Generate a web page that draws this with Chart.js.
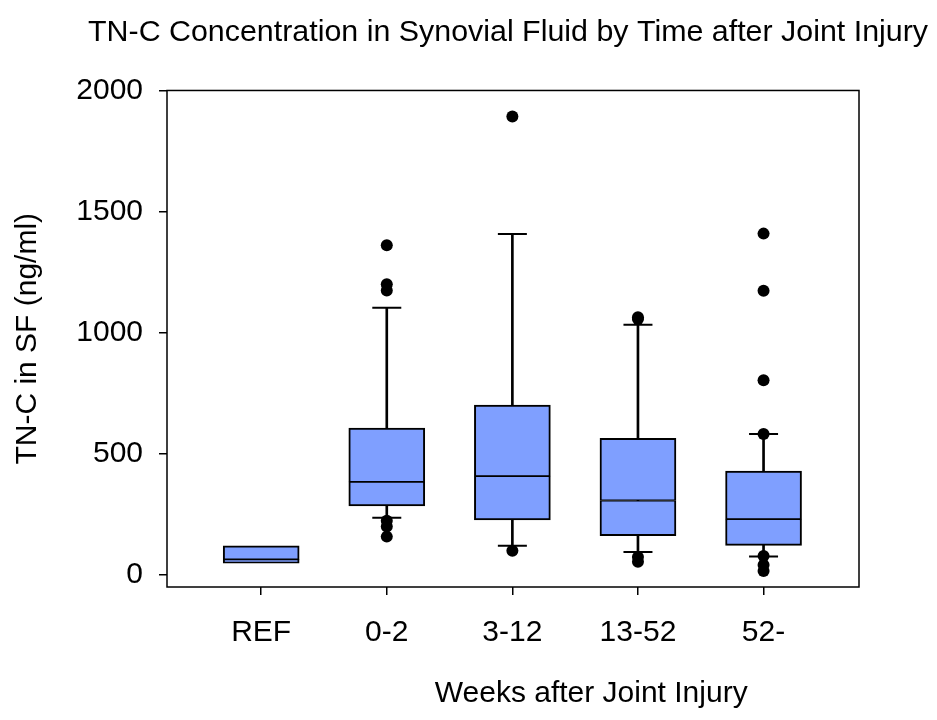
<!DOCTYPE html>
<html><head><meta charset="utf-8">
<script src="https://cdn.jsdelivr.net/npm/chart.js@4"></script>
<style>html,body{margin:0;padding:0;background:#fff}#wrap{width:937px;height:720px}</style>
</head><body><div id="wrap"><canvas id="c" width="937" height="720"></canvas></div>
<script>
const categories = ['REF', '0-2', '3-12', '13-52', '52-'];
const q1 = [48, 285, 227, 162, 122];
const medians = [64, 384, 408, 307, 230];
const q3 = [120, 606, 701, 564, 429];
const whiskerLow = [null, 236, 120, 94, 76];
const whiskerHigh = [null, 1103, 1407, 1033, 582];
const outliers = [
  [],
  [1361, 1200, 1174, 224, 200, 158],
  [1893, 100],
  [1064, 1056, 74, 54],
  [1409, 1173, 804, 582, 78, 41, 16]
];
const yTicks = [0, 500, 1000, 1500, 2000];
const chartTitle = 'TN-C Concentration in Synovial Fluid by Time after Joint Injury';
const xTitle = 'Weeks after Joint Injury';
const yTitle = 'TN-C in SF (ng/ml)';

const FONT = "'Liberation Sans', Arial, sans-serif";
Chart.defaults.font.family = FONT;
Chart.defaults.color = '#000';

const boxFill = '#7F9FFF';

const whiskerData = categories.map((c, i) => whiskerLow[i] == null ? null : {x: i + 1, y: [whiskerLow[i], whiskerHigh[i]]}).filter(d => d);
const lowerBox = categories.map((c, i) => ({x: i + 1, y: [q1[i], medians[i]]}));
const upperBox = categories.map((c, i) => ({x: i + 1, y: [medians[i], q3[i]]}));
const capData = [];
categories.forEach((c, i) => {
  if (whiskerLow[i] != null) capData.push({x: i + 1, y: whiskerLow[i]});
  if (whiskerHigh[i] != null) capData.push({x: i + 1, y: whiskerHigh[i]});
});
const outlierData = outliers.flatMap((arr, i) => arr.map(v => ({x: i + 1, y: v})));

const framePlugin = {
  id: 'frame',
  afterDraw(chart) {
    const {ctx, chartArea: a} = chart;
    ctx.save();
    ctx.strokeStyle = '#000';
    ctx.lineWidth = 1.5;
    ctx.strokeRect(a.left, a.top, a.width, a.height);
    ctx.restore();
  }
};
const xTitlePlugin = {
  id: 'xTitle',
  afterDraw(chart) {
    const {ctx, chartArea: a} = chart;
    ctx.save();
    ctx.font = '30px ' + FONT;
    ctx.fillStyle = '#000';
    ctx.textAlign = 'center';
    ctx.textBaseline = 'middle';
    ctx.fillText(xTitle, a.left + a.width * 0.613, a.bottom + 107);
    ctx.restore();
  }
};

const tickGrid = {display: true, offset: false, drawOnChartArea: false, drawTicks: true, tickLength: 8, color: '#000', lineWidth: 1.5};

new Chart(document.getElementById('c'), {
  type: 'bar',
  data: {
    datasets: [
      {type: 'bar', data: whiskerData, backgroundColor: '#000', borderWidth: 0, barThickness: 2, grouped: false, order: 4},
      {type: 'bar', data: lowerBox, backgroundColor: boxFill, borderColor: '#000',
        borderWidth: {top: 1.25, bottom: 2, left: 2, right: 2}, borderSkipped: false, barThickness: 76, grouped: false, order: 3},
      {type: 'bar', data: upperBox, backgroundColor: boxFill, borderColor: '#000',
        borderWidth: {top: 2, bottom: 1.25, left: 2, right: 2}, borderSkipped: false, barThickness: 76, grouped: false, order: 3},
      {type: 'scatter', data: capData, pointStyle: 'line', pointRadius: 14.5, borderColor: '#000', pointBorderColor: '#000', pointBorderWidth: 2, borderWidth: 2, order: 2},
      {type: 'scatter', data: outlierData, pointStyle: 'circle', pointRadius: 6, backgroundColor: '#000', pointBackgroundColor: '#000', pointBorderWidth: 0, borderWidth: 0, order: 1}
    ]
  },
  options: {
    responsive: false,
    animation: false,
    events: [],
    layout: {padding: {left: 0, right: 9, top: 0, bottom: 0}},
    plugins: {
      legend: {display: false},
      tooltip: {enabled: false},
      title: {display: true, text: chartTitle, align: 'end', color: '#000', font: {size: 30.4, weight: 'normal'}, padding: {top: 14, bottom: 40}}
    },
    scales: {
      x: {
        type: 'linear', position: 'bottom', min: 0.25, max: 5.76, offset: false,
        grid: tickGrid, border: {display: false},
        ticks: {autoSkip: false, maxRotation: 0, padding: 20, color: '#000', font: {size: 30},
          callback: v => categories[v - 1] ?? ''},
        afterBuildTicks: s => { s.ticks = categories.map((c, i) => ({value: i + 1})); },
        afterFit: s => { s.height = 133; }
      },
      y: {
        type: 'linear', position: 'left', min: -50, max: 2000,
        grid: tickGrid, border: {display: false},
        ticks: {padding: 16, color: '#000', font: {size: 30}, callback: v => String(v)},
        afterBuildTicks: s => { s.ticks = yTicks.map(v => ({value: v})); },
        afterFit: s => { s.width = 167; },
        title: {display: true, text: yTitle, color: '#000', font: {size: 30}, padding: {top: 10, bottom: 0}}
      },
      y2: {
        type: 'linear', position: 'right', display: true,
        grid: {display: false}, border: {display: false}, ticks: {display: false},
        afterFit: s => { s.width = 69; }
      }
    }
  },
  plugins: [framePlugin, xTitlePlugin]
});
</script>
</body></html>
